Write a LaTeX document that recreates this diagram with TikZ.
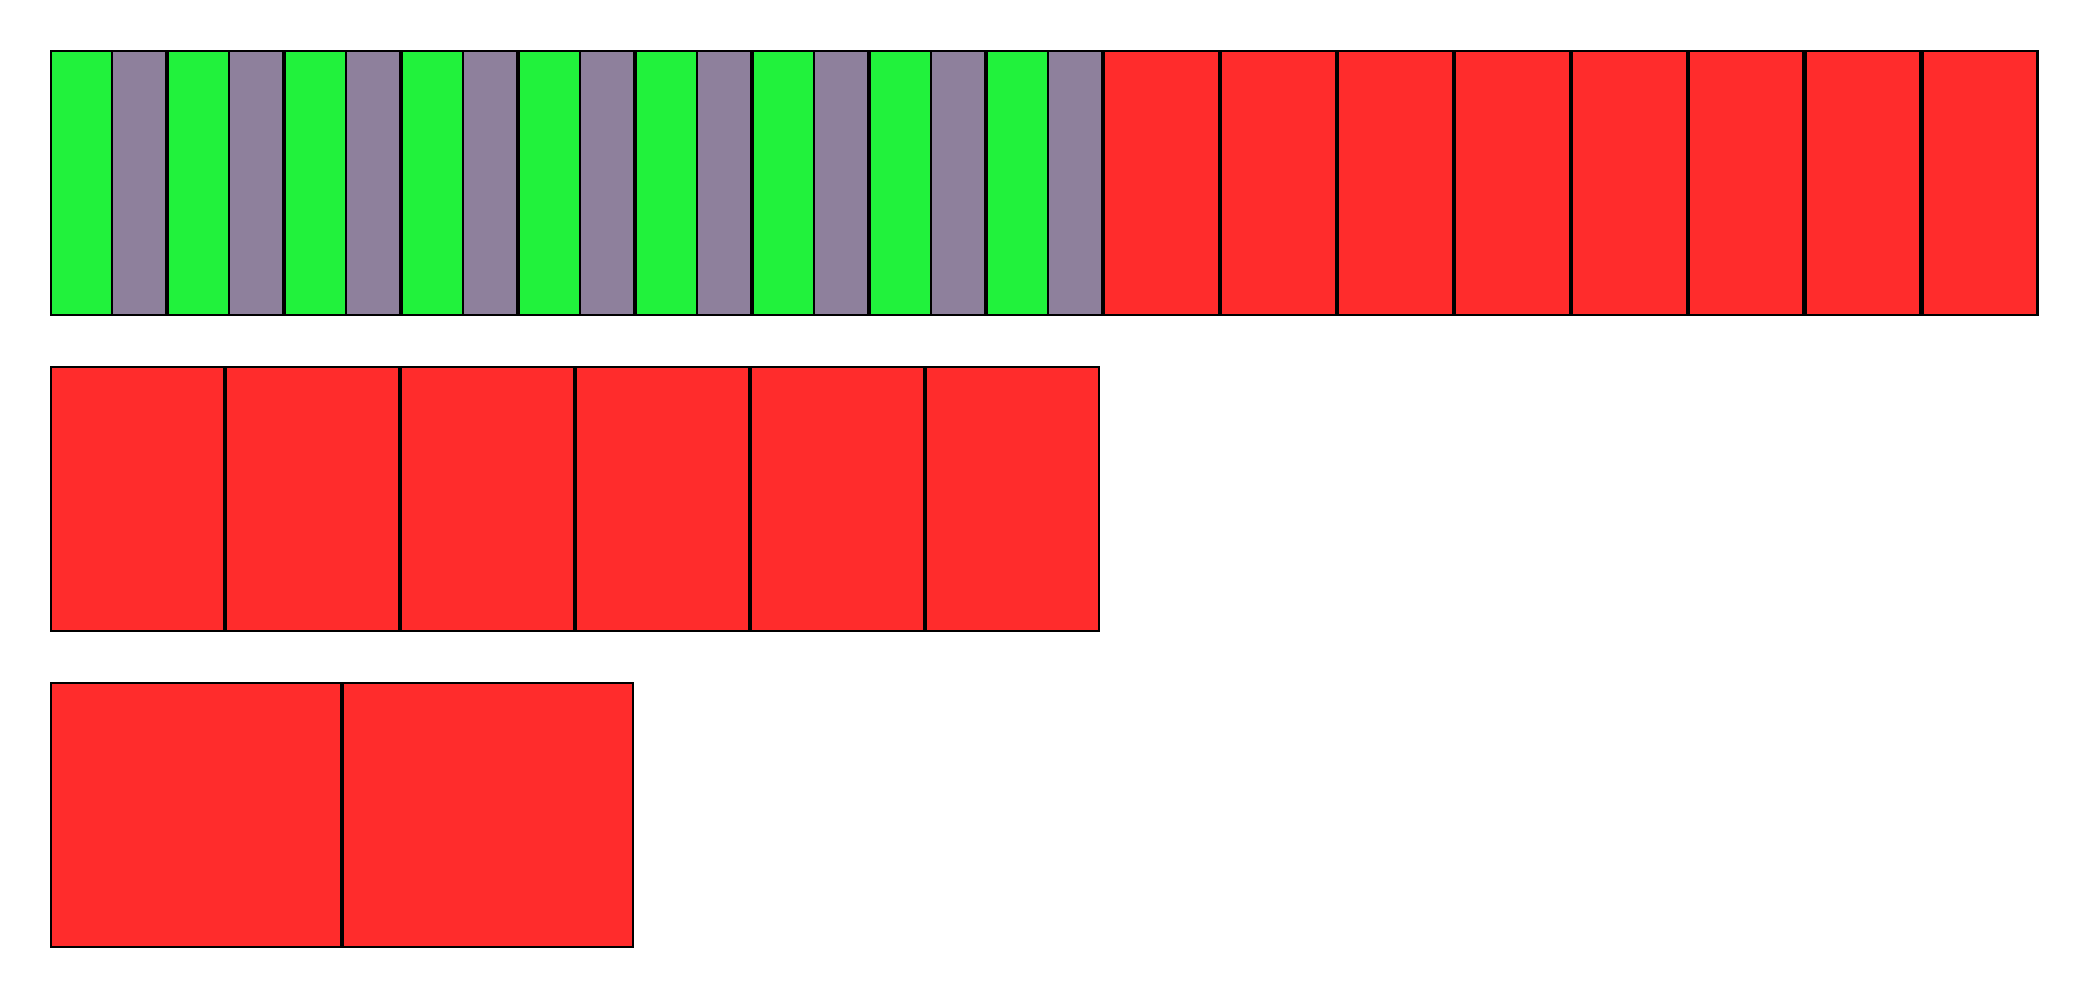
\documentclass[tikz,border=0pt]{standalone}
\usepackage{xcolor}
\usepackage{tikz}
\usetikzlibrary{positioning}
\definecolor{leaf}{HTML}{21F23C}
\definecolor{slate}{HTML}{8E809C}
\definecolor{brick}{HTML}{FF2C2C}

\begin{document}
\begin{tikzpicture}[
  cell/.style={draw=black, line width=0.65pt, minimum height=2.64cm, inner sep=0pt},
  gcell/.style={cell, fill=leaf, minimum width=0.61cm},
  scell/.style={cell, fill=slate, minimum width=0.537cm},
  rcell/.style={cell, fill=brick, minimum width=1.147cm},
  mcell/.style={cell, fill=brick, minimum width=1.7275cm},
  bcell/.style={cell, fill=brick, minimum width=2.8985cm}
]
\useasboundingbox (0,0) rectangle (21,-10);
% top row: nine green/slate pairs, then eight red cells
\node[gcell, anchor=north west] (g1) at (0.5,-0.5) {};
\node[scell, right=-0.65pt of g1] (s1) {};
\node[gcell, right=0pt of s1]     (g2) {};
\node[scell, right=-0.65pt of g2] (s2) {};
\node[gcell, right=0pt of s2]     (g3) {};
\node[scell, right=-0.65pt of g3] (s3) {};
\node[gcell, right=0pt of s3]     (g4) {};
\node[scell, right=-0.65pt of g4] (s4) {};
\node[gcell, right=0pt of s4]     (g5) {};
\node[scell, right=-0.65pt of g5] (s5) {};
\node[gcell, right=0pt of s5]     (g6) {};
\node[scell, right=-0.65pt of g6] (s6) {};
\node[gcell, right=0pt of s6]     (g7) {};
\node[scell, right=-0.65pt of g7] (s7) {};
\node[gcell, right=0pt of s7]     (g8) {};
\node[scell, right=-0.65pt of g8] (s8) {};
\node[gcell, right=0pt of s8]     (g9) {};
\node[scell, right=-0.65pt of g9] (s9) {};
\node[rcell, right=0pt of s9] (r1) {};
\node[rcell, right=0pt of r1] (r2) {};
\node[rcell, right=0pt of r2] (r3) {};
\node[rcell, right=0pt of r3] (r4) {};
\node[rcell, right=0pt of r4] (r5) {};
\node[rcell, right=0pt of r5] (r6) {};
\node[rcell, right=0pt of r6] (r7) {};
\node[rcell, right=0pt of r7] (r8) {};
% middle row
\node[mcell, anchor=north west] (m1) at (0.5,-3.66) {};
\node[mcell, right=0pt of m1] (m2) {};
\node[mcell, right=0pt of m2] (m3) {};
\node[mcell, right=0pt of m3] (m4) {};
\node[mcell, right=0pt of m4] (m5) {};
\node[mcell, right=0pt of m5] (m6) {};
% bottom row
\node[bcell, anchor=north west] (b1) at (0.5,-6.82) {};
\node[bcell, right=0pt of b1] (b2) {};
\end{tikzpicture}
\end{document}
